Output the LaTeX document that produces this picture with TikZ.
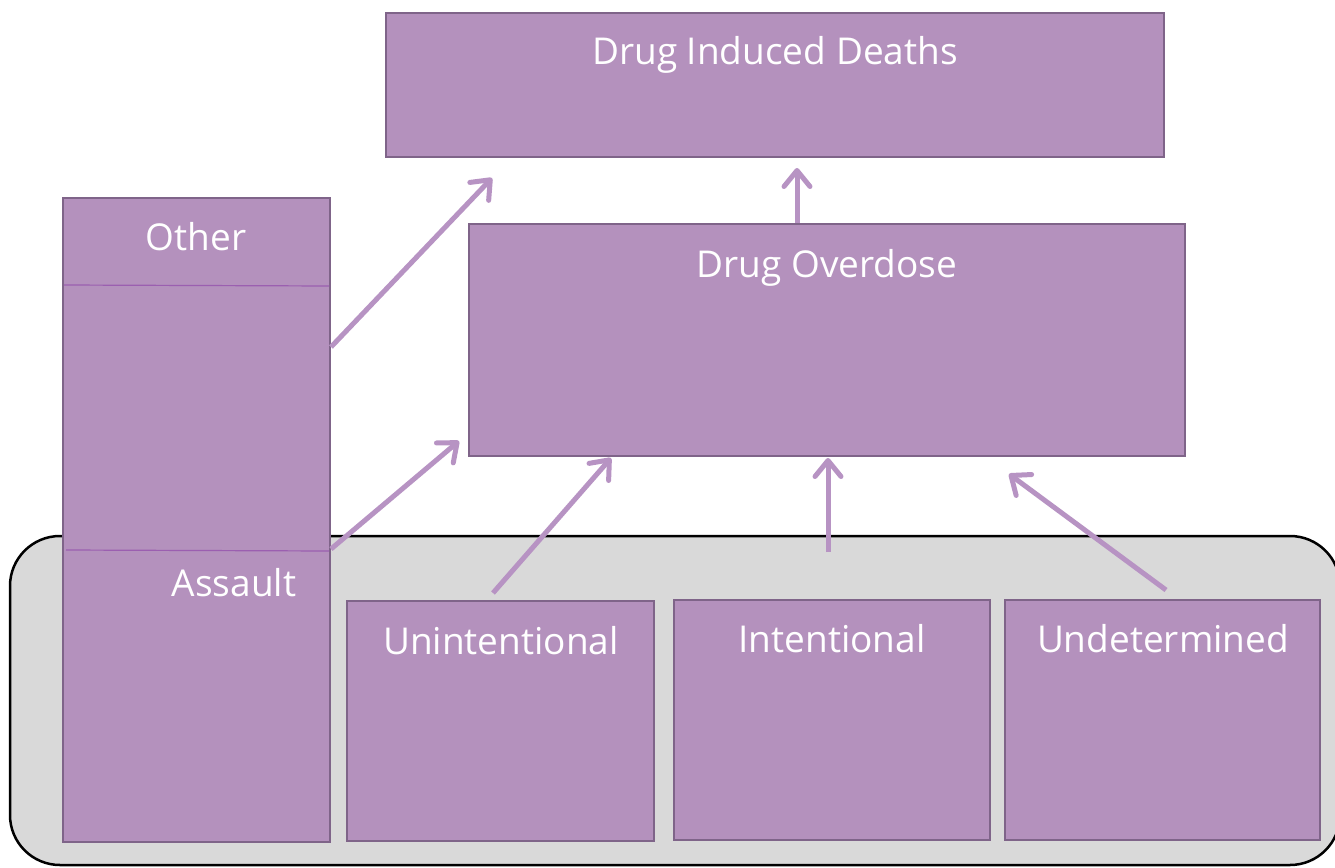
\documentclass[tikz,border=0pt]{standalone}
\usepackage{fontspec}
\setmainfont{Open Sans}
\usetikzlibrary{arrows.meta}
\definecolor{boxfill}{HTML}{B491BD}
\definecolor{boxline}{HTML}{7F6489}
\definecolor{sepline}{HTML}{9B5FB0}
\definecolor{arrowc}{HTML}{B793C3}
\definecolor{panel}{HTML}{D9D9D9}
\tikzset{
  box/.style={draw=boxline, fill=boxfill, line width=2.2pt, inner sep=0pt},
  lbl/.style={text=white, inner sep=0pt, anchor=base, font=\fontsize{37}{42}\selectfont},
  flow/.style={draw=arrowc, line width=5pt, -{Straight Barb[length=16pt,width=26pt,round]}}
}
\begin{document}
\begin{tikzpicture}[x=1pt,y=-1pt]
\useasboundingbox (0,0) rectangle (1335,867);
% grey panel
\draw[fill=panel, draw=black, line width=2.5pt, rounded corners=50pt] (10,536) rectangle (1340,865);
% boxes
\node[box, minimum width=778pt, minimum height=144pt] (did) at (775,85) {};
\node[box, minimum width=716pt, minimum height=232pt] (od) at (827,340) {};
\node[box, minimum width=267pt, minimum height=644pt] (left) at (196.5,520) {};
\node[box, minimum width=307pt, minimum height=240pt] (unint) at (500.5,721) {};
\node[box, minimum width=316pt, minimum height=240pt] (int) at (832,720) {};
\node[box, minimum width=315pt, minimum height=240pt] (undet) at (1162.5,720) {};
% separators in the left box
\coordinate (s1a) at (64,285);
\coordinate (s1b) at (329,286);
\coordinate (s2a) at (66,550);
\coordinate (s2b) at (329,551);
\draw[sepline, line width=1.2pt] (s1a) -- (s1b);
\draw[sepline, line width=1.2pt] (s2a) -- (s2b);
% labels
\node[lbl] (tdid) at (775,65) {Drug Induced Deaths};
\node[lbl] (tod) at (827,277) {Drug Overdose};
\node[lbl] (tother) at (196,250) {Other};
\node[lbl] (tass) at (234,596) {Assault};
\node[lbl] (tunint) at (501,654) {Unintentional};
\node[lbl] (tint) at (832,652) {Intentional};
\node[lbl] (tundet) at (1163,652) {Undetermined};
% arrow endpoints
\coordinate (a1s) at (331,347);
\coordinate (a1e) at (492,178);
\coordinate (a2s) at (331,549);
\coordinate (a2e) at (459,441);
\coordinate (a3s) at (493,593);
\coordinate (a3e) at (611,458);
\coordinate (a4s) at (828,552);
\coordinate (a4e) at (828,458);
\coordinate (a5s) at (1166,590);
\coordinate (a5e) at (1009,474);
\coordinate (a6s) at (797,223);
\coordinate (a6e) at (797,168);
\draw[flow] (a1s) -- (a1e);
\draw[flow] (a2s) -- (a2e);
\draw[flow] (a3s) -- (a3e);
\draw[flow] (a4s) -- (a4e);
\draw[flow] (a5s) -- (a5e);
\draw[flow] (a6s) -- (a6e);
\end{tikzpicture}
\end{document}
